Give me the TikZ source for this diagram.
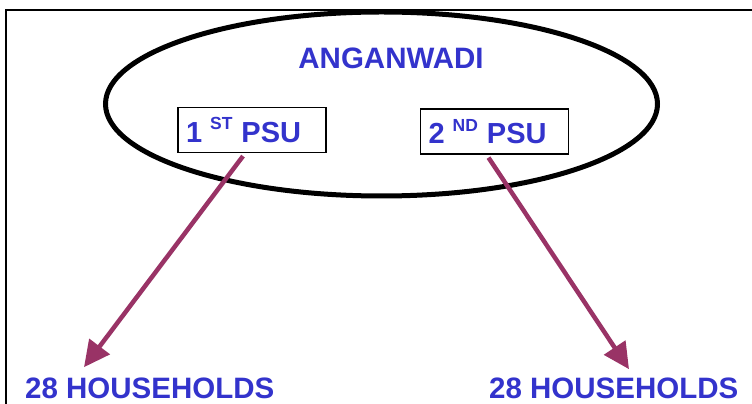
\documentclass[tikz,border=0pt]{standalone}
\usepackage{fontspec}
\setmainfont{Liberation Sans}
\usetikzlibrary{arrows.meta,calc}
\definecolor{txtblue}{HTML}{3333CC}
\definecolor{arrpurple}{HTML}{993366}
\newcommand{\psulabel}[2]{#1\hspace{8pt}\raisebox{0.42em}{\fontsize{17.5}{18}\selectfont #2}\hspace{9pt}PSU}
\begin{document}
\begin{tikzpicture}[x=1pt,y=1pt,
  lbl/.style={text=txtblue,font=\fontsize{29.5}{32}\selectfont\bfseries,inner sep=0pt},
  psubox/.style={draw=black,line width=1.2pt,fill=white,minimum width=148pt,minimum height=45pt,inner ysep=0pt,inner xsep=8pt,text width=132pt,align=left,text=txtblue,font=\fontsize{29}{30}\selectfont\bfseries},
  conn/.style={draw=arrpurple,line width=4.5pt,-{Triangle[length=26pt,width=25pt]}}]
\useasboundingbox (0,0) rectangle (752,404);
\draw[line width=2pt] (6,0) -- (6,394) -- (760,394);
\draw[line width=5pt] (381.5,300) ellipse [x radius=276, y radius=92];
\node[lbl] (ang) at (391,346) {ANGANWADI};
\node[psubox] (box1) at (252,274) {\psulabel{1}{ST}};
\node[psubox] (box2) at (494.5,272.5) {\psulabel{2}{ND}};
\node[lbl,anchor=base west] (hh1) at (25,5) {28 HOUSEHOLDS};
\node[lbl,anchor=base west] (hh2) at (489,5) {28 HOUSEHOLDS};
\coordinate (s1) at ($(box1.south)+(-9,-3)$);
\coordinate (s2) at ($(box2.south)+(-6,-3)$);
\coordinate (t1) at ($(hh1.north west)+(59,11)$);
\coordinate (t2) at ($(hh2.north west)+(140,9)$);
\draw[conn] (s1) -- (t1);
\draw[conn] (s2) -- (t2);
\end{tikzpicture}
\end{document}
